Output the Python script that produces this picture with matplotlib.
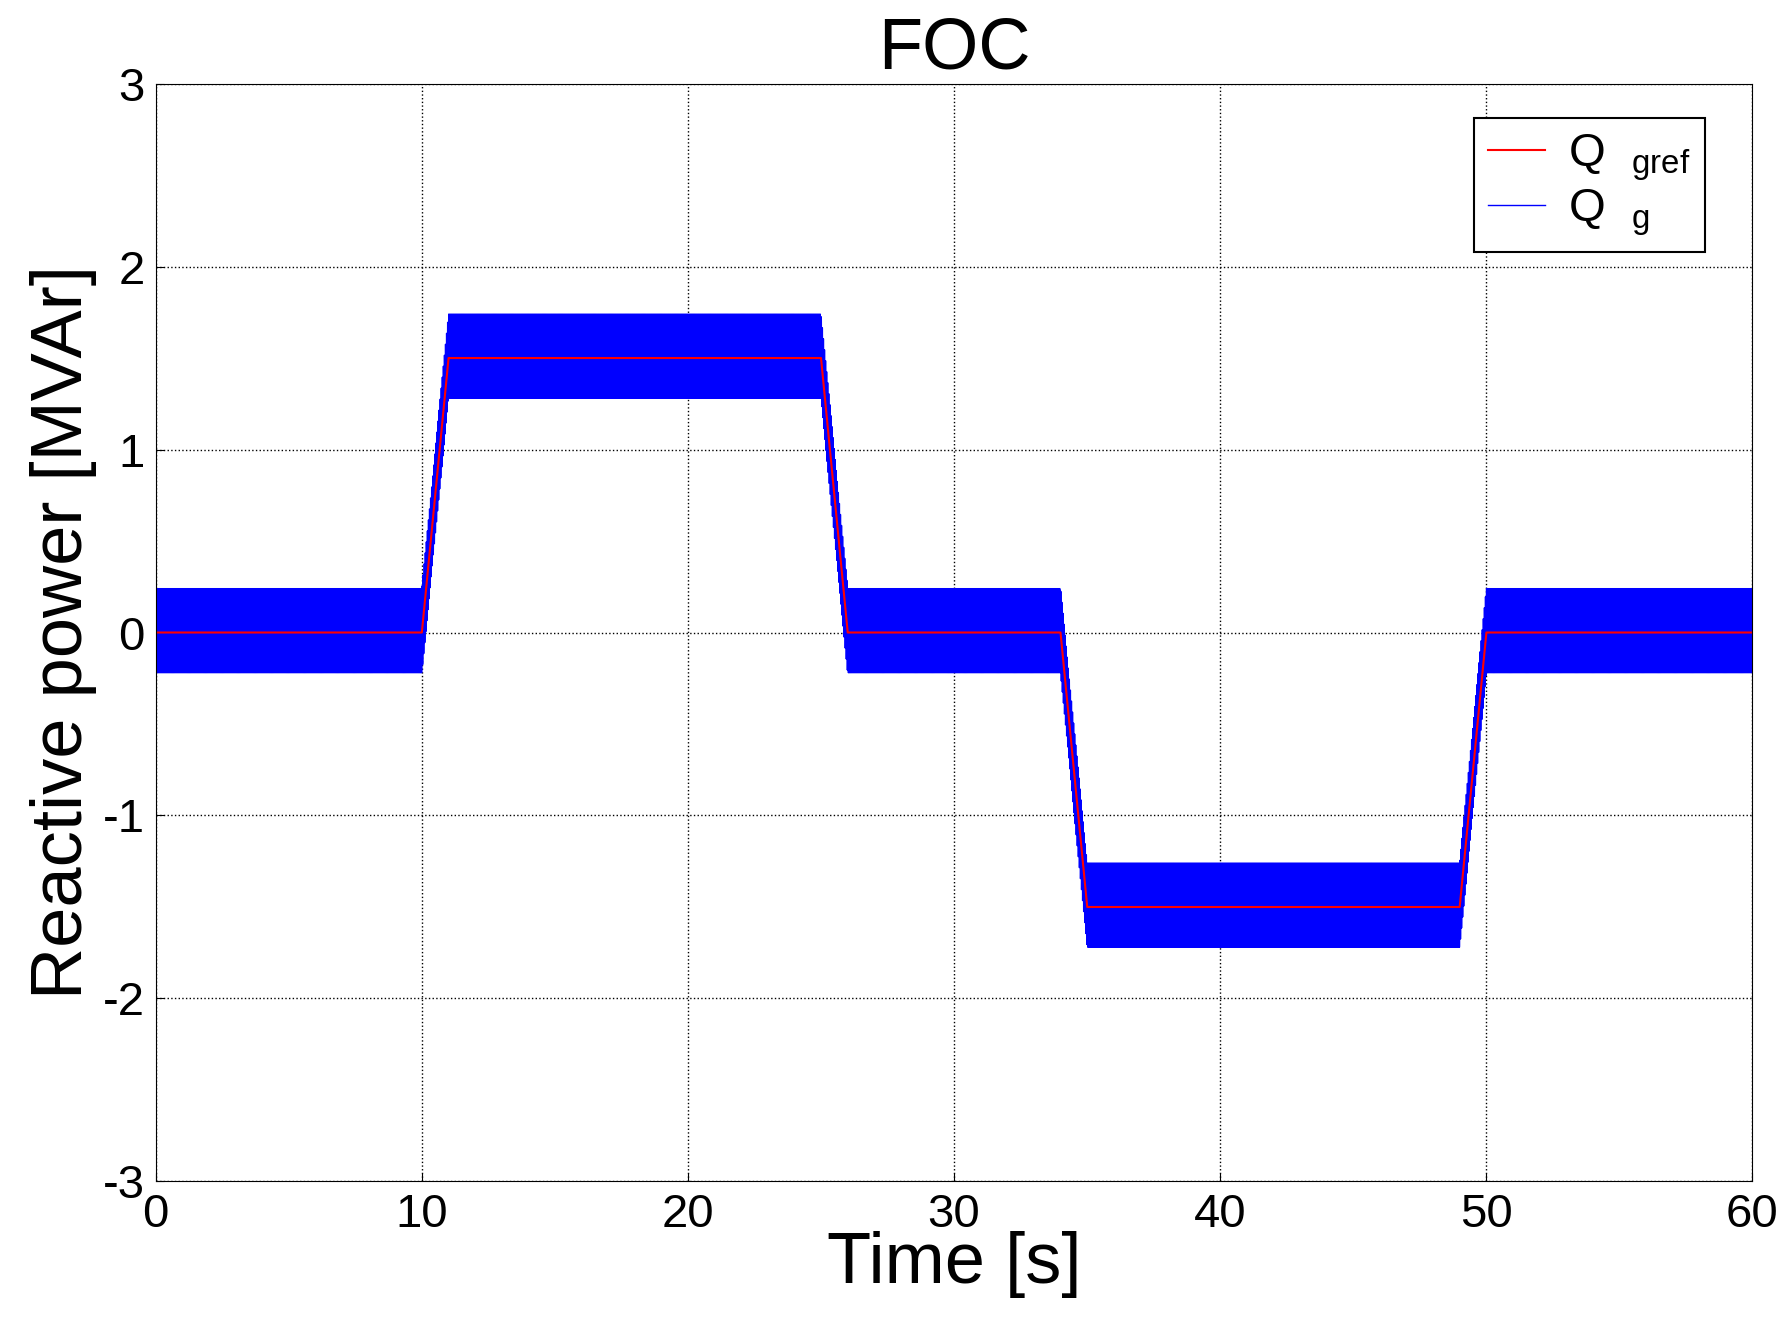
import numpy as np
import matplotlib
matplotlib.use("Agg")
import matplotlib.pyplot as plt

plt.rcParams['font.family'] = ['Liberation Sans', 'DejaVu Sans']
plt.rcParams['axes.unicode_minus'] = False
plt.rcParams['mathtext.fontset'] = 'custom'
plt.rcParams['mathtext.rm'] = 'Liberation Sans'

# Reference breakpoints (time [s], Q [MVAr])
t_break = [0, 10, 11, 25, 26, 34, 35, 49, 50, 60]
q_break = [0, 0, 1.5, 1.5, 0, 0, -1.5, -1.5, 0, 0]
ripple_upper = 0.24
ripple_lower = 0.22
ripple_freq = 25.0  # Hz, visual ripple

t = np.linspace(0, 60, 60001)
qref = np.interp(t, t_break, q_break)
s = np.sin(2 * np.pi * ripple_freq * t)
qg = qref + np.where(s > 0, ripple_upper, ripple_lower) * s

fig = plt.figure(figsize=(17.9, 13.26), dpi=100)
ax = fig.add_axes([0.087, 0.109, 0.892, 0.828])
ax.plot(t, qg, color="#0000ff", lw=1.0, label=r"Q  $_{\mathrm{g}}$")
ax.plot(t, qref, color="#ff0000", lw=1.5, label=r"Q  $_{\mathrm{gref}}$")
ax.set_xlim(0, 60)
ax.set_ylim(-3, 3)
ax.set_xticks(range(0, 61, 10))
ax.set_yticks(range(-3, 4))
ax.grid(True, color="black", linestyle=":", lw=1)
ax.tick_params(labelsize=34, direction="in", length=6, pad=8)
ax.set_xlabel("Time [s]", fontsize=52, labelpad=-4)
ax.set_ylabel("Reactive power [MVAr]", fontsize=52, labelpad=4)
ax.set_title("FOC", fontsize=52, pad=4)
h, l = ax.get_legend_handles_labels()
leg = ax.legend(h[::-1], l[::-1], loc="upper right", fontsize=34, fancybox=False,
                edgecolor="black", framealpha=1, handlelength=1.2,
                labelspacing=0.1, borderpad=0.3, handletextpad=0.5,
                bbox_to_anchor=(0.985, 0.99))
leg.get_frame().set_linewidth(1.5)
fig.savefig("out.png", dpi=100)
